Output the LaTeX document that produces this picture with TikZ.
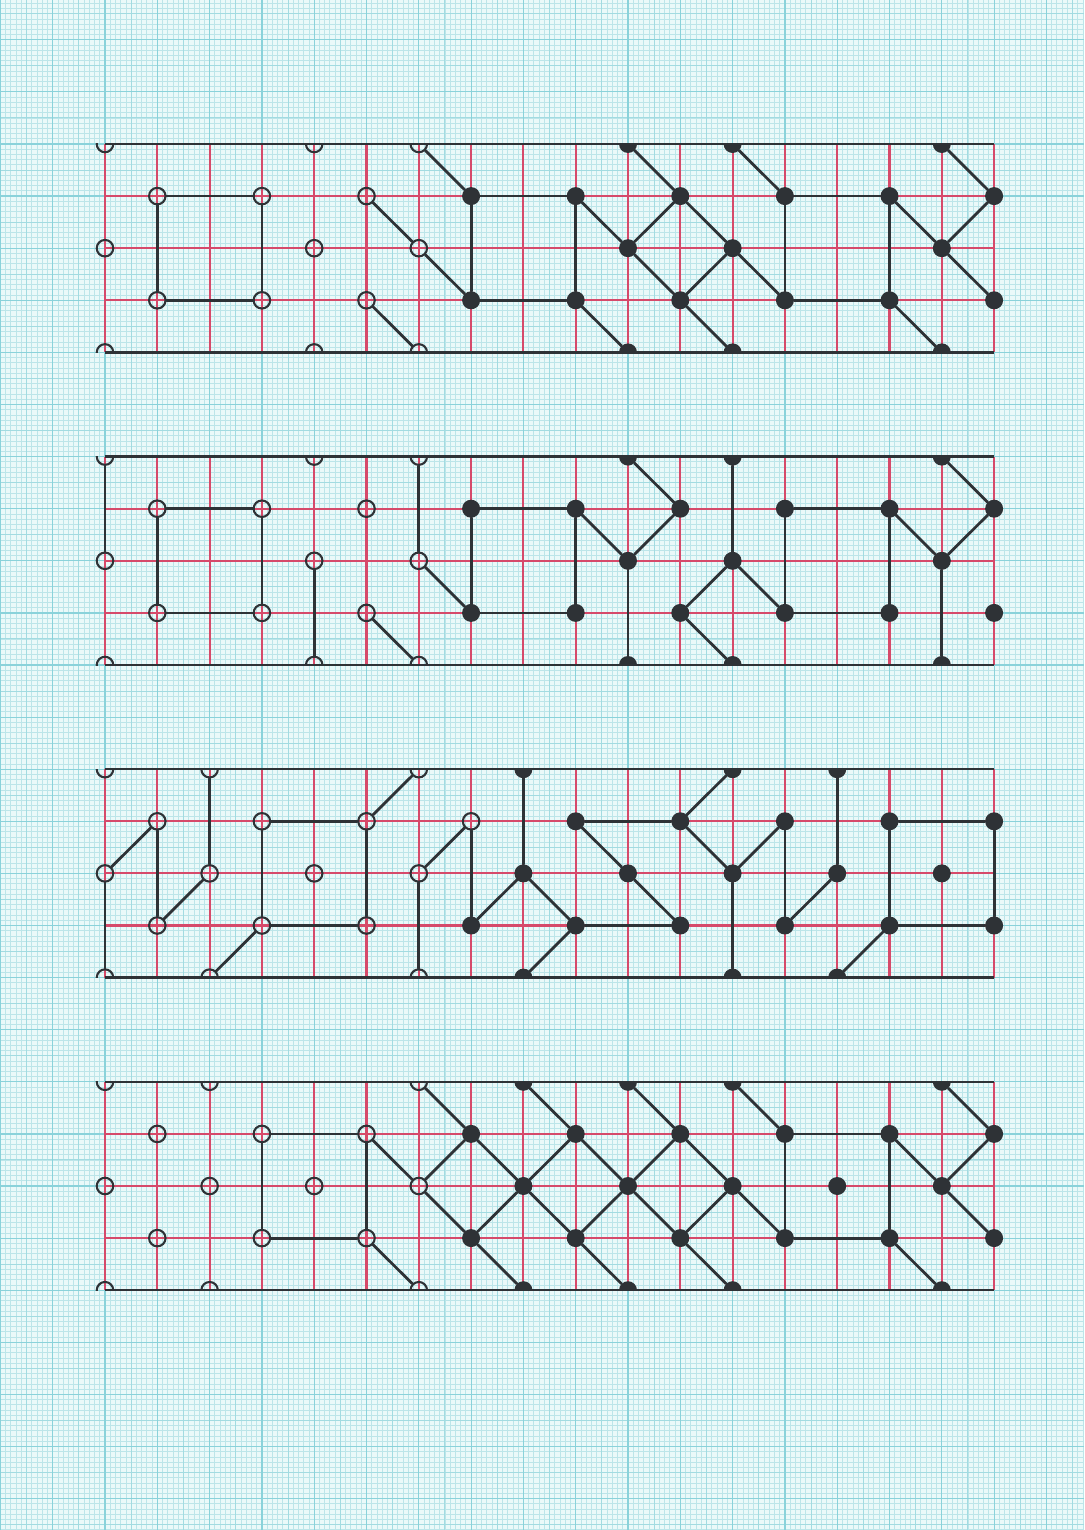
\documentclass[tikz,border=0pt]{standalone}
\definecolor{paper}{RGB}{234,249,249}
\definecolor{mm}{RGB}{188,229,233}
\definecolor{mmfive}{RGB}{162,219,225}
\definecolor{cmline}{RGB}{138,210,218}
\definecolor{redline}{RGB}{214,74,106}
\definecolor{ink}{RGB}{46,50,54}
\tikzset{
  mmline/.style={draw=mm, line width=0.8pt},
  fiveline/.style={draw=mmfive, line width=1.0pt},
  cmgrid/.style={draw=cmline, line width=1.2pt},
  redrule/.style={draw=redline, line width=2.1pt},
  border/.style={draw=ink, line width=2.5pt},
  edge/.style={draw=ink, line width=2.8pt, line cap=round},
  opendot/.style={circle, draw=ink, line width=2.1pt, inner sep=0pt, minimum size=16.5pt},
  filldot/.style={circle, fill=ink, inner sep=0pt, minimum size=18pt},
}
% #1 panel index, #2 open dots, #3 filled dots, #4 edges
\newcommand\drawpanel[4]{%
  \pgfmathsetmacro\ytop{144+52.1*6*#1}
  \pgfmathsetmacro\ybot{\ytop+52.1*4}
  \foreach \i in {0,...,17} {\draw[redrule] ({105+52.3*\i},\ytop) -- ({105+52.3*\i},\ybot);}
  \foreach \j in {1,2,3} {\draw[redrule] (105,{\ytop+52.1*\j}) -- (994.1,{\ytop+52.1*\j});}
  \begin{scope}
    \clip (0,\ytop) rectangle (1084,\ybot);
    \foreach \i/\j in {#2} {\node[opendot] (n#1-\i-\j) at ({105+52.3*\i},{\ytop+52.1*\j}) {};}
    \foreach \i/\j in {#3} {\node[filldot] (n#1-\i-\j) at ({105+52.3*\i},{\ytop+52.1*\j}) {};}
  \end{scope}
  \foreach \a/\b/\c/\d in {#4} {\draw[edge] (n#1-\a-\b) -- (n#1-\c-\d);}
  \draw[border] (105,\ytop) -- (994.1,\ytop);
  \draw[border] (105,\ybot) -- (994.1,\ybot);
}
\begin{document}
\begin{tikzpicture}[x=1pt,y=-1pt]
\useasboundingbox (0,0) rectangle (1084,1530);
\fill[paper] (0,0) rectangle (1084,1530);
% graph paper
\foreach \k in {-20,...,187} {\draw[mmline] ({105+5.23*\k},0) -- ({105+5.23*\k},1530);}
\foreach \k in {-27,...,266} {\draw[mmline] (0,{144+5.21*\k}) -- (1084,{144+5.21*\k});}
\foreach \k in {-4,...,37} {\draw[fiveline] ({105+26.15*\k},0) -- ({105+26.15*\k},1530);}
\foreach \k in {-5,...,53} {\draw[fiveline] (0,{144+26.05*\k}) -- (1084,{144+26.05*\k});}
\foreach \k in {-2,...,18} {\draw[cmgrid] ({105+52.3*\k},0) -- ({105+52.3*\k},1530);}
\foreach \k in {-2,...,26} {\draw[cmgrid] (0,{144+52.1*\k}) -- (1084,{144+52.1*\k});}

% panel 1
\drawpanel{0}
 {0/0,0/2,0/4,1/1,3/1,1/3,3/3,4/0,4/2,4/4,5/1,5/3,6/0,6/2,6/4}
 {7/1,7/3,9/1,9/3,10/0,10/2,10/4,11/1,11/3,12/0,12/2,12/4,13/1,13/3,15/1,15/3,16/0,16/2,16/4,17/1,17/3}
 {1/1/3/1,3/1/3/3,3/3/1/3,1/3/1/1,
  6/0/7/1,5/1/6/2,6/2/7/3,5/3/6/4,
  7/1/7/3,7/1/9/1,7/3/9/3,9/1/9/3,
  9/1/10/2,10/2/11/3,11/3/12/4,
  10/0/11/1,11/1/12/2,12/2/13/3,
  12/0/13/1,9/3/10/4,10/2/11/1,11/3/12/2,
  13/1/15/1,13/3/15/3,13/1/13/3,15/1/15/3,
  15/1/16/2,16/2/17/3,15/3/16/4,16/0/17/1,16/2/17/1}

% panel 2
\drawpanel{1}
 {0/0,0/2,0/4,1/1,1/3,3/1,3/3,4/0,4/2,4/4,5/1,5/3,6/0,6/2,6/4}
 {7/1,7/3,9/1,9/3,10/0,10/2,10/4,11/1,11/3,12/0,12/2,12/4,13/1,13/3,15/1,15/3,16/0,16/2,16/4,17/1,17/3}
 {0/0/0/2,1/1/3/1,3/1/3/3,3/3/1/3,1/3/1/1,4/2/4/4,6/0/6/2,6/2/7/3,5/3/6/4,
  7/1/7/3,7/1/9/1,7/3/9/3,9/1/9/3,
  9/1/10/2,10/0/11/1,10/2/11/1,10/2/10/4,
  12/0/12/2,12/2/11/3,11/3/12/4,12/2/13/3,
  13/1/15/1,13/3/15/3,13/1/13/3,15/1/15/3,
  15/1/16/2,16/2/17/1,16/0/17/1,16/2/16/4}

% panel 3
\drawpanel{2}
 {0/0,0/2,0/4,1/1,1/3,2/0,2/2,2/4,3/1,3/3,4/2,5/1,5/3,6/0,6/2,6/4,7/1}
 {7/3,8/0,8/2,8/4,9/1,9/3,10/2,11/1,11/3,12/0,12/2,12/4,13/1,13/3,14/0,14/2,14/4,15/1,15/3,16/2,17/1,17/3}
 {0/2/1/1,0/2/0/4,1/1/1/3,1/3/2/2,2/0/2/2,2/4/3/3,
  3/1/5/1,3/3/5/3,3/1/3/3,5/1/5/3,5/1/6/0,6/2/7/1,6/2/6/4,7/1/7/3,
  8/0/8/2,7/3/8/2,8/2/9/3,8/4/9/3,
  9/1/11/1,9/1/10/2,10/2/11/3,9/3/11/3,11/1/12/0,11/1/12/2,12/2/13/1,12/2/12/4,
  13/1/13/3,13/3/14/2,14/0/14/2,14/4/15/3,
  15/1/17/1,15/3/17/3,15/1/15/3,17/1/17/3}

% panel 4
\drawpanel{3}
 {0/0,0/2,0/4,1/1,1/3,2/0,2/2,2/4,3/1,3/3,4/2,5/1,5/3,6/0,6/2,6/4}
 {7/1,7/3,8/0,8/2,8/4,9/1,9/3,10/0,10/2,10/4,11/1,11/3,12/0,12/2,12/4,13/1,13/3,14/2,15/1,15/3,16/0,16/2,16/4,17/1,17/3}
 {3/1/5/1,3/3/5/3,3/1/3/3,5/1/5/3,
  5/1/6/2,6/2/7/3,7/3/8/4,5/3/6/4,
  6/0/7/1,7/1/8/2,8/2/9/3,9/3/10/4,
  6/2/7/1,7/3/8/2,8/0/9/1,8/2/9/1,
  9/1/10/2,10/2/11/3,11/3/12/4,9/3/10/2,
  10/0/11/1,11/1/12/2,12/2/13/3,10/2/11/1,11/3/12/2,12/0/13/1,
  13/1/15/1,13/3/15/3,13/1/13/3,15/1/15/3,
  15/1/16/2,16/2/17/3,15/3/16/4,16/0/17/1,16/2/17/1}
\end{tikzpicture}
\end{document}
